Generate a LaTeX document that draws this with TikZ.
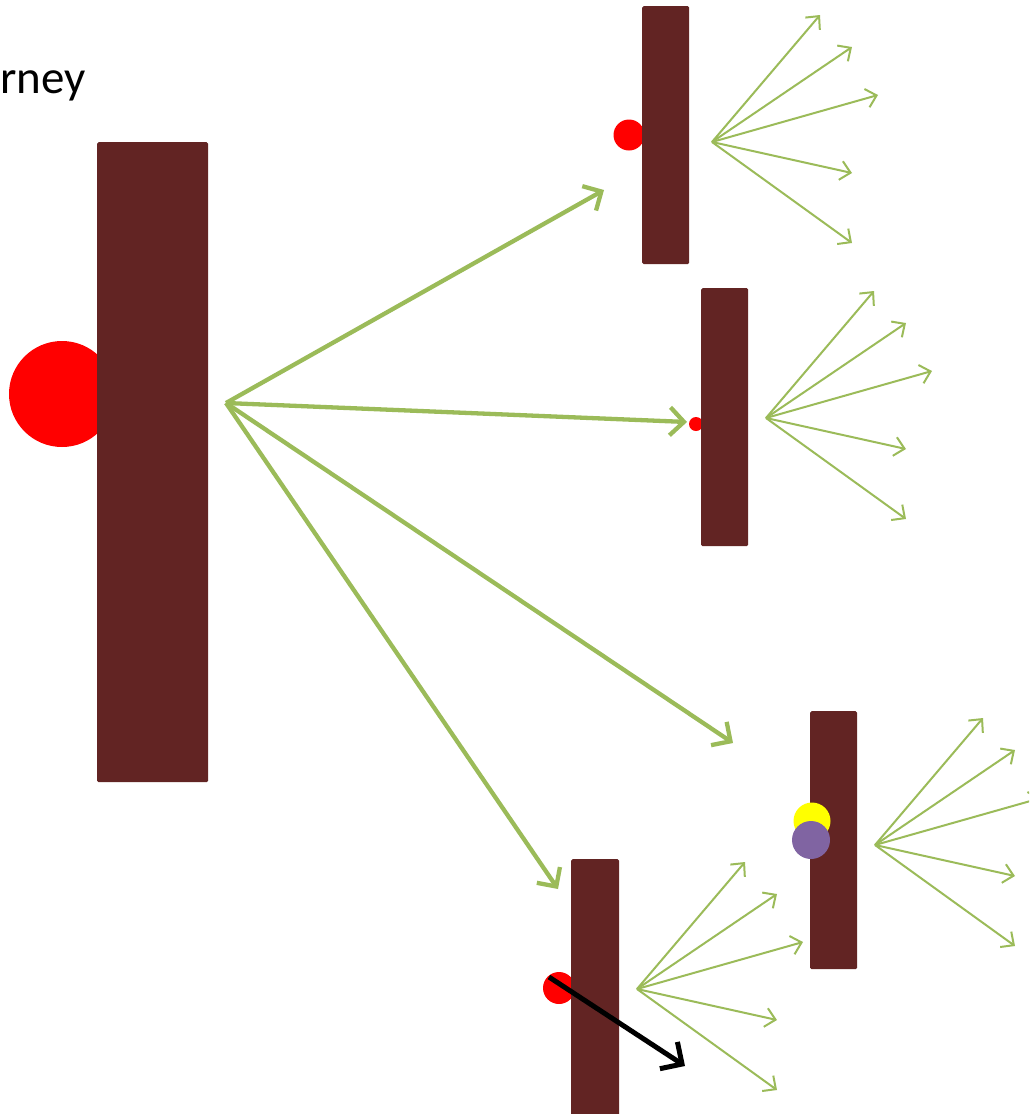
\documentclass[tikz,border=0pt]{standalone}
\usepackage{fontspec}
\setmainfont{Carlito}
\usetikzlibrary{arrows.meta,calc}
\definecolor{barc}{HTML}{622423}
\definecolor{grn}{HTML}{9BBB59}
\definecolor{purp}{HTML}{8064A2}
\definecolor{yel}{HTML}{FFFF00}
\definecolor{redc}{HTML}{FF0000}
\tikzset{
  barbox/.style={fill=barc, draw=none, rounded corners=1.5pt, inner sep=0pt, anchor=north west},
  dot/.style={circle, fill=#1, draw=none, inner sep=0pt},
  mainarrow/.style={draw=grn, line width=4.3pt, -{Straight Barb[length=14pt,width=28pt]}},
  fanarrow/.style={draw=grn, line width=2pt, -{Straight Barb[length=10pt,width=19pt]}},
  blackarrow/.style={draw=black, line width=5pt, -{Straight Barb[length=16pt,width=32pt]}},
}
\newcommand\drawfan[3]{%
  \coordinate (#1) at (#2,#3);
  \coordinate (#1a) at ($(#1)+(108,-127)$);
  \coordinate (#1b) at ($(#1)+(140,-95)$);
  \coordinate (#1c) at ($(#1)+(166,-47)$);
  \coordinate (#1d) at ($(#1)+(140,31)$);
  \coordinate (#1e) at ($(#1)+(140,101)$);
  \foreach \t in {a,b,c,d,e} \draw[fanarrow] (#1) -- (#1\t);
}
\begin{document}
\begin{tikzpicture}[x=1pt,y=-1pt]
\useasboundingbox (0,0) rectangle (1029,1114);
\begin{scope}
\clip (0,0) rectangle (1029,1114);
% title fragment
\node[anchor=base west, inner sep=0pt, font=\fontsize{47}{56}\selectfont] (title) at (0,93) {rney};
% main bar and circle
\node[dot=redc, minimum size=106pt] (bigc) at (62,394) {};
\node[barbox, minimum width=111pt, minimum height=640pt] (bar0) at (97,142) {};
% bar 1
\node[dot=redc, minimum size=31pt] (c1) at (629,135) {};
\node[barbox, minimum width=47pt, minimum height=258pt] (bar1) at (642,6) {};
% bar 2
\node[dot=redc, minimum size=14pt] (c2) at (696,424) {};
\node[barbox, minimum width=47pt, minimum height=258pt] (bar2) at (701,288) {};
% bar 3
\node[barbox, minimum width=47pt, minimum height=258pt] (bar3) at (810,711) {};
\node[dot=yel, minimum size=37pt] (c3y) at (812,821) {};
\node[dot=purp, minimum size=38pt] (c3p) at (811,840) {};
% bar 4
\node[dot=redc, minimum size=32pt] (c4) at (559,988) {};
\node[barbox, minimum width=48pt, minimum height=280pt] (bar4) at (571,859) {};
% main arrows
\coordinate (src) at (226,403);
\coordinate (t1) at (604,190);
\coordinate (t2) at (687,422);
\coordinate (t3) at (733,743);
\coordinate (t4) at (558,889);
\foreach \t in {t1,t2,t3,t4} \draw[mainarrow] (src) -- (\t);
% fans
\drawfan{fa}{712}{142}
\drawfan{fb}{766}{418}
\drawfan{fc}{875}{845}
\drawfan{fd}{637}{989}
% black arrow
\coordinate (bs) at (549,977);
\coordinate (bk) at (685,1066);
\draw[blackarrow] (bs) -- (bk);
\end{scope}
\end{tikzpicture}
\end{document}
